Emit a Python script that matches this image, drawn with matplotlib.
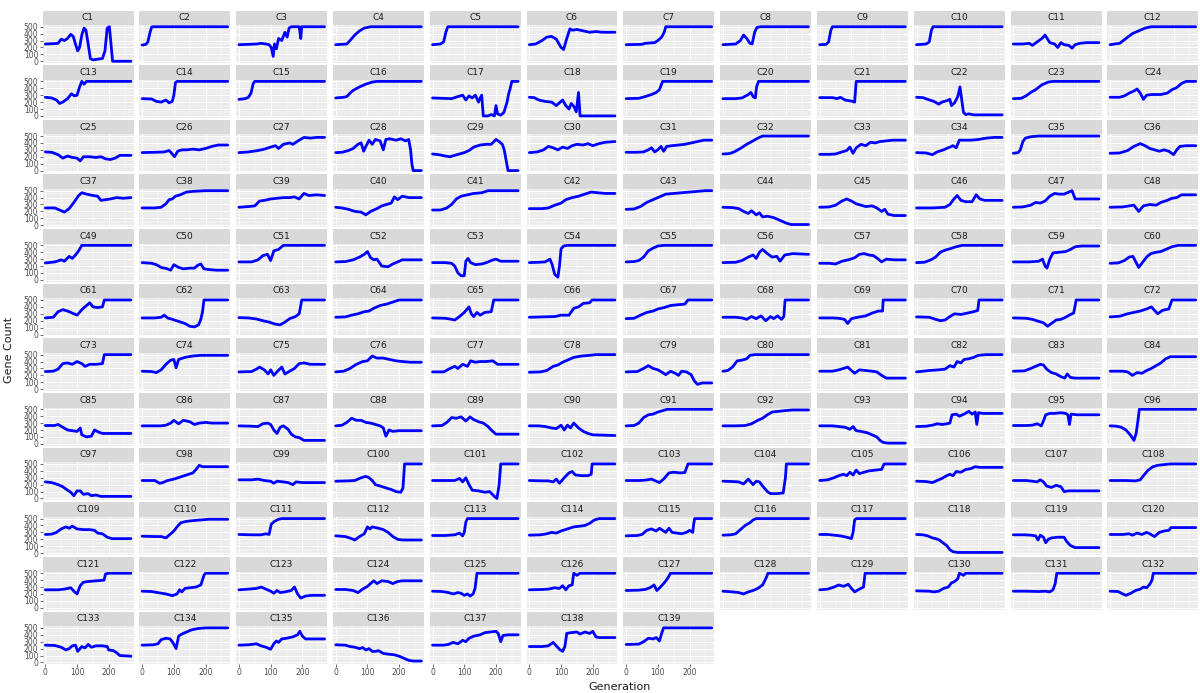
import matplotlib
matplotlib.use("Agg")
import matplotlib.pyplot as plt

row01 = [
    [(0, 250), (25, 255), (40, 260), (50, 320), (60, 300), (70, 330), (80, 390), (88, 360), (95, 250), (102, 150),
     (108, 200), (115, 380), (122, 480), (128, 450), (135, 250), (142, 40), (150, 20), (165, 30), (180, 40),
     (188, 150), (195, 480), (202, 500), (207, 250), (212, 0), (270, 0)],
    [(0, 235), (12, 245), (18, 280), (25, 420), (30, 495), (35, 500), (270, 500)],
    [(0, 240), (30, 245), (55, 250), (70, 260), (85, 250), (95, 240), (102, 200), (108, 70), (112, 250), (118, 180),
     (125, 330), (135, 300), (145, 420), (152, 350), (158, 480), (165, 500), (190, 500), (195, 330), (198, 500),
     (270, 500)],
    [(0, 240), (35, 250), (45, 300), (60, 380), (75, 440), (90, 480), (110, 500), (270, 500)],
    [(0, 240), (25, 250), (35, 280), (42, 420), (48, 500), (270, 500)],
    [(0, 240), (20, 250), (40, 300), (55, 350), (70, 360), (85, 320), (100, 200), (108, 170), (118, 330), (128, 470),
     (135, 450), (150, 460), (170, 440), (190, 420), (210, 430), (230, 420), (270, 420)],
    [(0, 240), (50, 245), (60, 260), (90, 270), (100, 300), (112, 350), (120, 420), (125, 500), (270, 500)],
    [(0, 240), (40, 250), (55, 300), (65, 380), (75, 330), (85, 260), (92, 250), (100, 420), (107, 490), (120, 500),
     (270, 500)],
    [(0, 240), (20, 245), (28, 280), (35, 450), (40, 500), (270, 500)],
    [(0, 240), (30, 250), (40, 280), (47, 450), (52, 500), (270, 500)],
    [(0, 250), (30, 250), (50, 260), (60, 230), (75, 280), (90, 330), (100, 380), (108, 320), (115, 270), (130, 250),
     (140, 200), (150, 270), (160, 240), (175, 230), (185, 190), (195, 240), (210, 260), (230, 270), (270, 270)],
    [(0, 240), (30, 260), (50, 330), (70, 400), (90, 440), (110, 480), (130, 500), (270, 500)],
]

row02 = [
    [(0, 270), (20, 260), (35, 230), (45, 180), (55, 200), (70, 250), (82, 320), (92, 290), (100, 300), (108, 420),
     (115, 500), (122, 460), (130, 500), (270, 500)],
    [(0, 250), (30, 245), (45, 210), (60, 200), (75, 230), (85, 190), (95, 210), (100, 300), (105, 480), (110, 500),
     (270, 500)],
    [(0, 240), (20, 250), (30, 270), (38, 330), (45, 470), (50, 500), (270, 500)],
    [(0, 260), (25, 270), (35, 280), (45, 330), (55, 370), (75, 420), (95, 460), (115, 490), (130, 500), (270, 500)],
    [(0, 260), (30, 255), (60, 250), (80, 280), (95, 300), (105, 230), (115, 290), (125, 260), (135, 300), (145, 200),
     (150, 260), (155, 300), (158, 120), (160, 0), (175, 0), (185, 20), (195, 0), (200, 150), (205, 30), (215, 10),
     (225, 50), (235, 200), (240, 320), (245, 400), (250, 500), (270, 500)],
    [(0, 270), (15, 265), (30, 230), (50, 210), (70, 200), (85, 150), (95, 190), (105, 230), (115, 150), (125, 100),
     (132, 180), (140, 140), (148, 60), (155, 340), (160, 0), (270, 0)],
    [(0, 250), (40, 255), (60, 280), (80, 310), (95, 340), (105, 380), (115, 500), (270, 500)],
    [(0, 250), (40, 250), (60, 260), (80, 310), (88, 340), (95, 280), (102, 260), (106, 420), (112, 500), (270, 500)],
    [(0, 265), (40, 265), (55, 250), (65, 270), (80, 230), (100, 215), (110, 200), (115, 500), (270, 500)],
    [(0, 270), (20, 265), (35, 240), (55, 210), (70, 170), (80, 200), (95, 220), (105, 240), (110, 150), (120, 190),
     (130, 280), (137, 420), (142, 250), (148, 50), (155, 20), (165, 30), (180, 15), (270, 15)],
    [(0, 250), (25, 255), (40, 290), (55, 340), (70, 380), (90, 450), (110, 490), (125, 500), (270, 500)],
    [(0, 270), (30, 270), (45, 290), (60, 330), (75, 360), (85, 390), (95, 330), (105, 240), (115, 300), (130, 310),
     (160, 310), (180, 330), (195, 380), (210, 410), (225, 470), (240, 500), (270, 500)],
]

row03 = [
    [(0, 270), (20, 265), (40, 230), (55, 180), (70, 210), (85, 190), (100, 180), (110, 140), (120, 200), (140, 200),
     (160, 190), (175, 200), (190, 170), (205, 160), (220, 180), (235, 220), (270, 220)],
    [(0, 260), (40, 265), (70, 270), (85, 290), (95, 240), (102, 200), (112, 280), (125, 300), (140, 300), (160, 310),
     (180, 300), (200, 320), (220, 350), (240, 370), (270, 370)],
    [(0, 260), (30, 270), (60, 290), (80, 310), (100, 340), (115, 360), (125, 320), (140, 380), (160, 400), (170, 380),
     (190, 440), (205, 480), (225, 470), (245, 480), (270, 480)],
    [(0, 260), (20, 265), (40, 290), (55, 320), (70, 380), (80, 400), (88, 280), (95, 350), (105, 440), (115, 380),
     (125, 450), (140, 430), (150, 300), (158, 450), (170, 460), (190, 440), (205, 460), (220, 430), (230, 450),
     (236, 300), (240, 100), (244, 0), (270, 0)],
    [(0, 240), (20, 230), (40, 210), (55, 200), (70, 220), (85, 240), (100, 260), (115, 290), (130, 340), (150, 370),
     (170, 380), (185, 380), (200, 450), (210, 420), (220, 380), (226, 300), (232, 150), (238, 0), (270, 0)],
    [(0, 260), (25, 270), (45, 300), (60, 350), (75, 330), (90, 300), (105, 340), (120, 320), (135, 360), (150, 380),
     (170, 370), (185, 390), (200, 360), (220, 390), (240, 410), (270, 420)],
    [(0, 265), (30, 265), (55, 270), (70, 300), (80, 330), (90, 270), (100, 300), (110, 350), (118, 280), (128, 350),
     (145, 360), (165, 370), (185, 380), (205, 400), (225, 420), (245, 440), (270, 440)],
    [(0, 240), (20, 245), (35, 270), (55, 320), (75, 380), (95, 430), (110, 470), (125, 500), (270, 500)],
    [(0, 235), (30, 235), (50, 240), (70, 270), (85, 290), (95, 340), (105, 250), (115, 330), (130, 380), (145, 360),
     (160, 410), (175, 400), (190, 420), (210, 430), (230, 440), (270, 440)],
    [(0, 260), (30, 255), (50, 230), (65, 270), (85, 300), (100, 330), (115, 360), (125, 330), (135, 440), (150, 440),
     (170, 440), (195, 450), (220, 470), (245, 480), (270, 480)],
    [(0, 250), (15, 260), (22, 300), (30, 420), (38, 470), (55, 490), (80, 500), (270, 500)],
    [(0, 250), (30, 255), (55, 290), (75, 350), (95, 390), (110, 360), (125, 320), (140, 300), (155, 280), (170, 300),
     (185, 280), (200, 230), (210, 300), (220, 350), (240, 360), (270, 360)],
]

row04 = [
    [(0, 250), (30, 250), (45, 220), (60, 190), (75, 240), (90, 330), (105, 430), (115, 470), (130, 450), (150, 430),
     (165, 420), (175, 360), (190, 370), (205, 380), (225, 400), (245, 390), (270, 400)],
    [(0, 250), (40, 250), (60, 260), (75, 310), (85, 370), (95, 380), (105, 420), (120, 440), (140, 480), (160, 490),
     (200, 500), (270, 500)],
    [(0, 260), (30, 270), (50, 280), (65, 350), (80, 360), (100, 380), (120, 390), (140, 400), (160, 400), (175, 410),
     (190, 380), (205, 460), (220, 430), (245, 440), (270, 430)],
    [(0, 260), (20, 250), (40, 230), (60, 200), (80, 190), (95, 150), (110, 200), (130, 240), (145, 280), (160, 300),
     (175, 320), (185, 410), (195, 370), (210, 420), (230, 400), (270, 400)],
    [(0, 220), (25, 220), (45, 250), (60, 300), (75, 380), (90, 420), (110, 440), (130, 460), (155, 470), (175, 500),
     (270, 500)],
    [(0, 240), (40, 240), (60, 250), (80, 290), (100, 320), (115, 370), (135, 400), (155, 420), (175, 450), (195, 480),
     (215, 470), (240, 460), (270, 460)],
    [(0, 230), (25, 235), (45, 270), (65, 330), (85, 370), (105, 410), (125, 450), (150, 460), (175, 470), (200, 480),
     (225, 490), (250, 500), (270, 500)],
    [(0, 260), (30, 255), (50, 240), (65, 200), (80, 170), (90, 210), (105, 150), (115, 180), (125, 120), (140, 130),
     (160, 110), (180, 70), (200, 30), (215, 10), (270, 10)],
    [(0, 260), (30, 265), (50, 290), (70, 350), (85, 380), (100, 350), (115, 310), (130, 290), (145, 270), (165, 280),
     (180, 250), (195, 200), (205, 230), (215, 160), (235, 140), (270, 140)],
    [(0, 250), (50, 250), (90, 260), (105, 300), (118, 380), (128, 430), (140, 360), (155, 340), (175, 340),
     (188, 440), (200, 380), (215, 360), (240, 360), (270, 360)],
    [(0, 260), (30, 265), (55, 290), (70, 330), (85, 320), (100, 350), (115, 420), (130, 460), (145, 450), (160, 450),
     (175, 480), (185, 500), (195, 380), (215, 380), (270, 380)],
    [(0, 260), (40, 265), (60, 280), (75, 290), (90, 200), (105, 280), (125, 300), (145, 290), (160, 330), (180, 360),
     (195, 390), (210, 400), (225, 440), (270, 440)],
]

row05 = [
    [(0, 245), (30, 260), (50, 290), (60, 270), (75, 340), (85, 310), (95, 360), (105, 420), (115, 500), (270, 500)],
    [(0, 250), (30, 240), (45, 220), (60, 180), (80, 160), (90, 140), (100, 220), (115, 180), (130, 160), (150, 170),
     (165, 170), (175, 210), (185, 230), (195, 160), (210, 150), (235, 140), (270, 140)],
    [(0, 260), (40, 260), (60, 290), (75, 350), (90, 370), (100, 280), (110, 420), (125, 440), (140, 500), (270, 500)],
    [(0, 260), (30, 265), (55, 290), (75, 330), (90, 370), (100, 410), (110, 320), (120, 290), (130, 300), (145, 200),
     (165, 190), (180, 230), (195, 260), (210, 290), (240, 290), (270, 290)],
    [(0, 250), (40, 250), (60, 240), (70, 200), (80, 100), (90, 60), (100, 60), (105, 270), (112, 310), (120, 250),
     (135, 220), (155, 230), (170, 250), (185, 280), (200, 300), (215, 270), (240, 270), (270, 270)],
    [(0, 250), (30, 255), (50, 260), (65, 300), (72, 220), (80, 80), (90, 40), (95, 200), (100, 450), (108, 490),
     (120, 500), (270, 500)],
    [(0, 260), (25, 265), (40, 280), (55, 330), (70, 420), (85, 460), (100, 490), (120, 500), (270, 500)],
    [(0, 250), (40, 255), (60, 280), (80, 330), (95, 360), (105, 310), (115, 400), (125, 440), (140, 380), (155, 330),
     (170, 340), (180, 270), (195, 360), (220, 380), (270, 370)],
    [(0, 240), (30, 240), (50, 230), (70, 270), (90, 290), (110, 320), (125, 370), (140, 380), (155, 360), (170, 350),
     (185, 300), (195, 260), (210, 300), (235, 290), (270, 290)],
    [(0, 250), (25, 255), (45, 290), (60, 330), (75, 400), (90, 430), (105, 450), (125, 480), (145, 500), (270, 500)],
    [(0, 260), (50, 260), (80, 270), (92, 300), (100, 200), (106, 170), (115, 300), (125, 390), (145, 400), (165, 410),
     (180, 440), (195, 480), (215, 490), (270, 490)],
    [(0, 240), (25, 245), (45, 280), (60, 330), (72, 340), (82, 250), (90, 180), (100, 240), (115, 330), (128, 380),
     (145, 400), (160, 410), (175, 440), (195, 480), (215, 500), (270, 500)],
]

row06 = [
    [(0, 240), (25, 250), (40, 330), (55, 360), (70, 340), (90, 300), (100, 280), (115, 360), (130, 420), (140, 460),
     (150, 400), (165, 390), (180, 400), (186, 500), (270, 500)],
    [(0, 240), (40, 240), (60, 250), (70, 280), (80, 240), (95, 220), (115, 190), (135, 160), (150, 120), (165, 110),
     (178, 140), (185, 220), (190, 320), (195, 500), (270, 500)],
    [(0, 245), (30, 240), (55, 225), (75, 200), (95, 180), (115, 150), (130, 140), (145, 180), (160, 230), (178, 260),
     (190, 300), (195, 420), (198, 500), (270, 500)],
    [(0, 250), (30, 255), (50, 280), (70, 300), (90, 330), (105, 340), (120, 380), (140, 420), (160, 440), (180, 470),
     (200, 500), (270, 500)],
    [(0, 240), (40, 235), (60, 220), (70, 210), (85, 260), (100, 320), (115, 400), (122, 300), (130, 260), (140, 320),
     (150, 280), (165, 320), (185, 330), (193, 500), (270, 500)],
    [(0, 250), (40, 255), (80, 260), (100, 280), (125, 280), (140, 380), (155, 400), (170, 450), (190, 460),
     (198, 500), (270, 500)],
    [(0, 230), (25, 235), (45, 280), (65, 320), (85, 340), (100, 370), (120, 390), (140, 420), (160, 430), (185, 440),
     (195, 500), (270, 500)],
    [(0, 250), (40, 250), (60, 240), (75, 220), (90, 260), (105, 230), (120, 270), (135, 200), (150, 260), (160, 230),
     (172, 270), (185, 220), (192, 260), (196, 500), (270, 500)],
    [(0, 240), (40, 240), (60, 235), (78, 220), (88, 160), (100, 230), (120, 250), (145, 270), (165, 310), (185, 340),
     (198, 340), (200, 500), (270, 500)],
    [(0, 255), (40, 250), (60, 220), (75, 200), (90, 210), (105, 260), (120, 300), (140, 290), (160, 310), (180, 330),
     (193, 350), (197, 500), (270, 500)],
    [(0, 240), (40, 235), (60, 220), (80, 190), (95, 170), (108, 120), (120, 160), (135, 210), (150, 220), (165, 250),
     (180, 290), (190, 310), (195, 420), (198, 500), (270, 500)],
    [(0, 255), (30, 265), (55, 300), (75, 320), (95, 340), (115, 370), (130, 400), (140, 350), (150, 300), (165, 350),
     (185, 370), (195, 500), (270, 500)],
]

row07 = [
    [(0, 255), (25, 260), (40, 290), (55, 370), (70, 380), (85, 360), (100, 400), (115, 370), (125, 330), (140, 360),
     (160, 360), (180, 370), (186, 500), (270, 500)],
    [(0, 260), (30, 255), (45, 240), (60, 280), (75, 360), (90, 420), (100, 430), (107, 310), (115, 430), (135, 460),
     (160, 480), (185, 490), (270, 490)],
    [(0, 250), (40, 255), (55, 290), (65, 320), (80, 280), (92, 220), (100, 280), (110, 200), (122, 260), (135, 320),
     (145, 220), (160, 260), (175, 300), (190, 370), (205, 380), (225, 360), (270, 360)],
    [(0, 250), (25, 260), (45, 300), (65, 360), (85, 400), (100, 410), (115, 480), (130, 450), (150, 450), (170, 430),
     (190, 410), (210, 400), (235, 390), (270, 390)],
    [(0, 250), (35, 250), (55, 300), (70, 330), (80, 300), (95, 360), (110, 330), (120, 410), (135, 390), (150, 400),
     (170, 400), (190, 410), (205, 360), (230, 360), (270, 360)],
    [(0, 245), (35, 250), (55, 270), (75, 330), (90, 350), (105, 390), (120, 420), (140, 460), (165, 480), (190, 490),
     (210, 500), (270, 500)],
    [(0, 250), (35, 255), (55, 300), (70, 340), (85, 300), (100, 280), (115, 240), (125, 210), (140, 260), (155, 230),
     (165, 200), (175, 260), (190, 250), (205, 210), (215, 120), (225, 70), (240, 90), (270, 90)],
    [(0, 260), (15, 270), (30, 320), (45, 410), (60, 420), (75, 440), (85, 490), (100, 500), (270, 500)],
    [(0, 260), (40, 260), (60, 280), (75, 300), (88, 320), (100, 270), (110, 230), (125, 280), (145, 270), (165, 260),
     (180, 250), (195, 200), (210, 160), (230, 160), (270, 160)],
    [(0, 250), (40, 270), (70, 280), (90, 290), (105, 340), (118, 320), (128, 400), (140, 380), (150, 430), (165, 440),
     (180, 460), (195, 490), (220, 500), (270, 500)],
    [(0, 260), (35, 265), (55, 300), (70, 330), (85, 360), (95, 350), (105, 290), (120, 240), (135, 220), (150, 180),
     (162, 160), (170, 220), (180, 170), (195, 160), (270, 160)],
    [(0, 260), (40, 260), (55, 250), (70, 200), (85, 240), (100, 230), (115, 270), (130, 300), (145, 340), (160, 380),
     (175, 440), (190, 470), (270, 470)],
]

row08 = [
    [(0, 265), (30, 265), (40, 280), (55, 240), (70, 200), (85, 190), (100, 180), (110, 230), (115, 130), (130, 100),
     (145, 110), (155, 200), (168, 170), (180, 150), (200, 150), (270, 150)],
    [(0, 260), (40, 260), (60, 260), (75, 270), (90, 300), (100, 340), (115, 290), (130, 340), (150, 320), (165, 280),
     (180, 300), (200, 310), (220, 300), (270, 300)],
    [(0, 260), (40, 255), (60, 250), (75, 290), (90, 300), (100, 280), (110, 200), (120, 150), (130, 240), (140, 260),
     (155, 210), (165, 140), (178, 100), (190, 90), (205, 50), (230, 50), (270, 50)],
    [(0, 260), (20, 270), (35, 310), (50, 370), (65, 340), (80, 340), (95, 310), (110, 300), (125, 280), (140, 260),
     (150, 230), (158, 110), (168, 200), (180, 180), (200, 190), (270, 190)],
    [(0, 260), (30, 265), (45, 310), (60, 380), (75, 370), (90, 390), (105, 330), (118, 390), (130, 350), (145, 320),
     (160, 300), (175, 250), (185, 200), (200, 140), (270, 140)],
    [(0, 260), (30, 260), (50, 250), (70, 230), (85, 220), (100, 270), (110, 200), (120, 270), (130, 230), (140, 300),
     (155, 230), (170, 180), (185, 150), (200, 130), (270, 120)],
    [(0, 260), (25, 265), (40, 300), (55, 380), (70, 420), (85, 430), (100, 460), (115, 480), (130, 500), (270, 500)],
    [(0, 260), (40, 260), (70, 265), (90, 290), (110, 340), (125, 370), (140, 420), (155, 460), (175, 470), (195, 480),
     (220, 490), (270, 490)],
    [(0, 260), (40, 260), (60, 250), (80, 240), (95, 210), (105, 250), (115, 190), (130, 180), (150, 160), (165, 130),
     (180, 100), (190, 50), (200, 20), (215, 10), (270, 10)],
    [(0, 250), (30, 255), (50, 270), (65, 290), (80, 280), (95, 290), (105, 300), (112, 420), (125, 430), (135, 400),
     (150, 430), (165, 470), (175, 430), (185, 460), (190, 280), (195, 450), (210, 440), (270, 440)],
    [(0, 265), (40, 265), (60, 270), (75, 290), (88, 260), (95, 330), (102, 420), (115, 440), (130, 440), (150, 450),
     (165, 440), (172, 420), (177, 280), (182, 430), (200, 420), (270, 420)],
    [(0, 260), (20, 255), (35, 240), (50, 200), (65, 120), (75, 50), (82, 150), (88, 350), (92, 500), (270, 500)],
]

row09 = [
    [(0, 240), (20, 230), (40, 200), (55, 170), (70, 120), (80, 90), (90, 40), (100, 110), (110, 110), (120, 60),
     (135, 70), (145, 40), (160, 50), (175, 30), (270, 30)],
    [(0, 260), (40, 260), (55, 220), (65, 230), (80, 260), (100, 280), (120, 310), (140, 340), (160, 370), (170, 420),
     (180, 480), (190, 460), (270, 460)],
    [(0, 270), (40, 270), (60, 280), (80, 260), (100, 250), (110, 220), (120, 250), (140, 240), (155, 230), (170, 200),
     (180, 240), (200, 230), (230, 230), (270, 230)],
    [(0, 250), (40, 255), (60, 260), (80, 300), (95, 320), (105, 300), (115, 260), (125, 200), (140, 180), (160, 150),
     (175, 130), (190, 100), (205, 90), (212, 150), (217, 500), (270, 500)],
    [(0, 260), (40, 260), (70, 260), (85, 290), (95, 240), (105, 300), (115, 200), (125, 120), (145, 110), (165, 90),
     (180, 100), (195, 30), (203, 0), (210, 200), (215, 500), (270, 500)],
    [(0, 260), (40, 255), (60, 255), (75, 240), (85, 280), (95, 220), (110, 300), (125, 370), (135, 390), (145, 340),
     (165, 330), (185, 330), (195, 350), (198, 500), (270, 500)],
    [(0, 260), (40, 260), (60, 265), (80, 280), (95, 250), (105, 230), (120, 290), (135, 370), (150, 380), (170, 370),
     (185, 375), (195, 500), (270, 500)],
    [(0, 250), (30, 245), (50, 240), (65, 210), (80, 280), (95, 200), (105, 250), (115, 240), (125, 180), (140, 100),
     (150, 70), (170, 70), (190, 80), (197, 300), (200, 500), (270, 500)],
    [(0, 260), (25, 270), (45, 300), (60, 330), (75, 350), (85, 330), (95, 380), (105, 340), (115, 410), (125, 360),
     (140, 380), (155, 400), (175, 410), (195, 420), (203, 500), (270, 500)],
    [(0, 250), (30, 245), (50, 230), (65, 260), (80, 290), (95, 330), (105, 350), (115, 330), (125, 390), (140, 380),
     (155, 420), (170, 430), (185, 460), (200, 450), (230, 450), (270, 450)],
    [(0, 260), (40, 260), (60, 250), (75, 240), (85, 270), (95, 240), (105, 180), (120, 160), (135, 190), (150, 170),
     (160, 100), (175, 110), (200, 110), (270, 110)],
    [(0, 260), (50, 260), (80, 255), (95, 270), (105, 330), (120, 410), (135, 460), (150, 480), (170, 490), (190, 500),
     (270, 500)],
]

row10 = [
    [(0, 270), (20, 275), (35, 300), (50, 350), (65, 380), (75, 360), (85, 390), (100, 350), (120, 340), (140, 340),
     (155, 330), (165, 290), (180, 280), (195, 230), (210, 210), (270, 210)],
    [(0, 245), (40, 240), (60, 240), (75, 220), (85, 260), (100, 320), (110, 380), (122, 440), (140, 460), (160, 470),
     (185, 480), (210, 490), (270, 490)],
    [(0, 270), (40, 265), (70, 265), (85, 280), (95, 270), (102, 420), (112, 460), (125, 490), (135, 500), (270, 500)],
    [(0, 250), (30, 240), (50, 210), (60, 190), (75, 240), (90, 280), (100, 380), (108, 350), (115, 380), (135, 360),
     (150, 340), (165, 300), (180, 240), (195, 200), (210, 190), (270, 190)],
    [(0, 255), (40, 255), (70, 265), (85, 290), (95, 250), (100, 300), (105, 450), (110, 500), (270, 500)],
    [(0, 260), (35, 265), (55, 280), (70, 300), (85, 290), (100, 320), (120, 350), (140, 380), (160, 390), (175, 400),
     (190, 430), (205, 480), (220, 500), (270, 500)],
    [(0, 250), (35, 255), (50, 270), (65, 330), (80, 350), (95, 320), (105, 360), (115, 330), (125, 300), (135, 360),
     (145, 300), (160, 290), (175, 280), (190, 300), (200, 330), (210, 300), (213, 420), (216, 500), (270, 500)],
    [(0, 260), (25, 265), (40, 280), (55, 340), (70, 400), (85, 440), (95, 480), (105, 500), (270, 500)],
    [(0, 270), (25, 270), (45, 260), (65, 250), (85, 230), (100, 210), (105, 300), (110, 480), (115, 500), (270, 500)],
    [(0, 270), (20, 265), (35, 250), (50, 220), (60, 210), (72, 190), (80, 160), (95, 110), (105, 50), (115, 20),
     (130, 10), (270, 10)],
    [(0, 265), (35, 265), (55, 260), (70, 250), (78, 190), (85, 260), (95, 230), (102, 150), (110, 200), (120, 220),
     (140, 230), (160, 230), (168, 170), (180, 110), (195, 80), (270, 80)],
    [(0, 270), (40, 270), (60, 280), (70, 260), (85, 290), (100, 270), (115, 300), (125, 280), (140, 240), (155, 300),
     (170, 320), (185, 330), (192, 370), (210, 370), (270, 370)],
]

row11 = [
    [(0, 260), (40, 260), (60, 270), (80, 290), (92, 230), (100, 200), (110, 320), (120, 370), (135, 380), (160, 390),
     (185, 400), (190, 490), (200, 500), (270, 500)],
    [(0, 240), (30, 235), (55, 215), (75, 200), (95, 175), (110, 200), (118, 260), (125, 230), (135, 280), (150, 290),
     (170, 300), (185, 330), (195, 470), (200, 500), (270, 500)],
    [(0, 260), (30, 270), (55, 280), (70, 300), (85, 270), (100, 240), (110, 210), (120, 250), (130, 220), (145, 230),
     (165, 250), (175, 300), (185, 200), (195, 140), (210, 170), (230, 180), (270, 180)],
    [(0, 265), (30, 265), (55, 250), (70, 220), (85, 270), (100, 310), (112, 360), (120, 390), (130, 350), (145, 390),
     (165, 380), (180, 350), (195, 380), (210, 390), (270, 390)],
    [(0, 240), (30, 235), (50, 220), (65, 200), (80, 220), (90, 210), (100, 180), (110, 200), (118, 170), (128, 200),
     (134, 280), (140, 500), (270, 500)],
    [(0, 260), (40, 265), (60, 270), (80, 290), (95, 280), (105, 320), (115, 260), (125, 320), (135, 330), (140, 500),
     (150, 470), (160, 500), (270, 500)],
    [(0, 250), (40, 255), (60, 265), (75, 290), (88, 330), (97, 250), (108, 300), (120, 360), (130, 420), (140, 500),
     (270, 500)],
    [(0, 240), (30, 230), (50, 220), (65, 200), (80, 230), (95, 250), (110, 280), (125, 330), (135, 420), (142, 500),
     (270, 500)],
    [(0, 260), (25, 270), (45, 300), (60, 330), (75, 310), (90, 340), (100, 280), (110, 230), (125, 270), (138, 300),
     (143, 500), (270, 500)],
    [(0, 245), (40, 240), (55, 230), (70, 240), (85, 280), (100, 300), (110, 360), (120, 380), (130, 420), (135, 500),
     (148, 470), (155, 500), (270, 500)],
    [(0, 240), (40, 240), (80, 235), (100, 240), (115, 230), (125, 260), (132, 350), (137, 500), (270, 500)],
    [(0, 240), (25, 235), (40, 200), (50, 180), (65, 210), (80, 250), (95, 270), (105, 300), (115, 290), (125, 340),
     (132, 400), (136, 500), (270, 500)],
]

row12 = [
    [(0, 250), (30, 245), (50, 220), (65, 180), (75, 200), (85, 240), (95, 250), (102, 160), (115, 230), (125, 210),
     (135, 260), (145, 220), (160, 240), (180, 240), (195, 230), (200, 180), (215, 170), (225, 140), (235, 100),
     (270, 90)],
    [(0, 250), (35, 255), (50, 270), (60, 330), (75, 350), (88, 340), (98, 280), (107, 200), (115, 380), (125, 410),
     (140, 440), (155, 470), (175, 490), (200, 500), (270, 500)],
    [(0, 250), (30, 255), (55, 270), (70, 240), (85, 220), (100, 190), (110, 270), (118, 310), (125, 290), (135, 340),
     (150, 350), (170, 370), (185, 400), (192, 450), (200, 380), (210, 340), (230, 340), (270, 340)],
    [(0, 255), (30, 250), (45, 230), (60, 220), (75, 200), (85, 215), (95, 180), (105, 200), (115, 160), (125, 160),
     (135, 170), (150, 130), (165, 120), (185, 110), (200, 90), (215, 60), (230, 30), (245, 20), (270, 20)],
    [(0, 250), (35, 250), (50, 260), (65, 290), (80, 270), (95, 320), (105, 300), (115, 350), (130, 380), (150, 400),
     (165, 430), (180, 440), (200, 450), (207, 420), (215, 300), (222, 390), (240, 400), (270, 400)],
    [(0, 230), (40, 230), (60, 240), (75, 290), (85, 240), (95, 190), (105, 160), (112, 230), (118, 420), (130, 430),
     (150, 440), (160, 410), (175, 440), (190, 420), (200, 450), (210, 370), (220, 360), (270, 360)],
    [(0, 260), (40, 265), (55, 300), (70, 350), (85, 340), (95, 360), (105, 310), (112, 420), (118, 500), (270, 500)],
]

facet_rows = [row01, row02, row03, row04, row05, row06, row07, row08, row09, row10, row11, row12]
count_ticks = [0, 100, 200, 300, 400, 500]
count_minor = [50, 150, 250, 350, 450]
gen_ticks = [0, 100, 200]
gen_minor = [50, 150, 250]

W, H = 1200, 693
fig = plt.figure(figsize=(W / 100, H / 100), dpi=100)


def box(left, top, width, height):
    # pixel box (top-left origin) -> figure fraction
    return [left / W, 1 - (top + height) / H, width / W, height / H]


n = 0
for r, row in enumerate(facet_rows):
    for c, trace in enumerate(row):
        n += 1
        left = 42.5 + 96.8 * c
        top = 10.5 + 54.65 * r

        strip = fig.add_axes(box(left, top, 91, 14.5))
        strip.set_facecolor("#D9D9D9")
        strip.set_xticks([])
        strip.set_yticks([])
        for s in strip.spines.values():
            s.set_visible(False)
        strip.text(0.5, 0.5, "C%d" % n, ha="center", va="center", fontsize=6.5, color="#1A1A1A")

        ax = fig.add_axes(box(left, top + 14.5, 91, 38))
        ax.set_facecolor("#EBEBEB")
        for s in ax.spines.values():
            s.set_visible(False)
        ax.set_xlim(-9, 278)
        ax.set_ylim(-25, 525)
        for v in count_minor:
            ax.axhline(v, color="white", lw=0.35, zorder=0)
        for v in gen_minor:
            ax.axvline(v, color="white", lw=0.35, zorder=0)
        for v in count_ticks:
            ax.axhline(v, color="white", lw=0.7, zorder=0)
        for v in gen_ticks:
            ax.axvline(v, color="white", lw=0.7, zorder=0)

        gens, counts = zip(*trace)
        ax.plot(gens, counts, color="#0000FF", lw=2.0, solid_joinstyle="round", solid_capstyle="round")

        ax.set_yticks(count_ticks)
        ax.set_xticks(gen_ticks)
        ax.tick_params(colors="#333333", labelcolor="#4D4D4D", labelsize=5.5, length=2, width=0.5, pad=1)
        if c != 0:
            ax.tick_params(axis="y", length=0, labelleft=False)
        is_bottom = (r == len(facet_rows) - 1)
        if not is_bottom:
            ax.tick_params(axis="x", length=0, labelbottom=False)

fig.text(9 / W, 1 - 350 / H, "Gene Count", rotation=90, ha="center", va="center", fontsize=8, color="#1A1A1A")
fig.text(620 / W, 1 - 687 / H, "Generation", ha="center", va="center", fontsize=8, color="#1A1A1A")

fig.savefig("out.png", dpi=100, facecolor="white")
